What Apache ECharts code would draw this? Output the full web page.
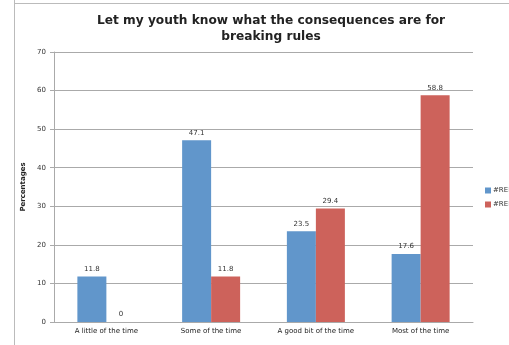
<!DOCTYPE html>
<html><head><meta charset="utf-8">
<script src="https://cdn.jsdelivr.net/npm/echarts@6/dist/echarts.min.js"></script>
<style>html,body{margin:0;padding:0;background:#fff}#c{width:509px;height:345px}</style>
</head><body><div id="c"></div>
<script>
var categories = ["A little of the time", "Some of the time", "A good bit of the time", "Most of the time"];
var seriesNames = ["#REF!", "#REF!"];
var series1 = [11.8, 47.1, 23.5, 17.6];
var series2 = [0, 11.8, 29.4, 58.8];
var yTicks = [0, 10, 20, 30, 40, 50, 60, 70];

var chart = echarts.init(document.getElementById('c'), null, {renderer: 'canvas'});
var lbl = {show: true, position: 'top', fontSize: 7, color: '#333', distance: 4, fontFamily: 'DejaVu Sans'};
chart.setOption({
  animation: false,
  graphic: [
    {type: 'line', shape: {x1: 14.5, y1: 0, x2: 14.5, y2: 345}, style: {stroke: '#bbb', lineWidth: 1}},
    {type: 'line', shape: {x1: 14, y1: 3.5, x2: 509, y2: 3.5}, style: {stroke: '#bbb', lineWidth: 1}}
  ],
  title: {
    text: 'Let my youth know what the consequences are for\nbreaking rules',
    left: 266, top: 8, textAlign: 'center',
    textStyle: {fontSize: 12.2, fontWeight: 'bold', color: '#222', fontFamily: 'DejaVu Sans', lineHeight: 16}
  },
  legend: {
    orient: 'vertical', left: 480, top: 182, itemWidth: 6, itemHeight: 6, itemGap: 7,
    textStyle: {fontSize: 7, color: '#333', fontFamily: 'DejaVu Sans', padding: [0,0,0,-3]},
    data: [{name: 'a', icon: 'rect'}, {name: 'b', icon: 'rect'}],
    formatter: function(n){ return n === 'a' ? seriesNames[0] : seriesNames[1]; }
  },
  grid: {left: 54, right: 36, top: 52, bottom: 23},
  xAxis: {
    type: 'category', data: categories,
    axisLine: {lineStyle: {color: '#aaa'}},
    axisTick: {show: false},
    axisLabel: {fontSize: 7, color: '#222', margin: 6, fontFamily: 'DejaVu Sans', interval: 0}
  },
  yAxis: {
    type: 'value', min: 0, max: 70, interval: 10,
    name: 'Percentages', nameLocation: 'middle', nameGap: 20, nameRotate: 90,
    nameTextStyle: {fontSize: 7, fontWeight: 'bold', color: '#222', fontFamily: 'DejaVu Sans'},
    axisLine: {show: true, lineStyle: {color: '#aaa'}},
    axisTick: {show: true, inside: false, length: 4, lineStyle: {color: '#aaa'}},
    axisLabel: {fontSize: 7, color: '#333', margin: 8, fontFamily: 'DejaVu Sans',
      formatter: function(v){ return yTicks.indexOf(v) >= 0 ? String(v) : ''; }},
    splitLine: {lineStyle: {color: '#aaa'}}
  },
  series: [
    {name: 'a', type: 'bar', data: series1, barWidth: 29, barGap: '0%',
      itemStyle: {color: '#6196cb'}, label: lbl},
    {name: 'b', type: 'bar', data: series2, barWidth: 29, barGap: '0%',
      itemStyle: {color: '#cd625b'}, label: lbl}
  ]
});
</script></body></html>
